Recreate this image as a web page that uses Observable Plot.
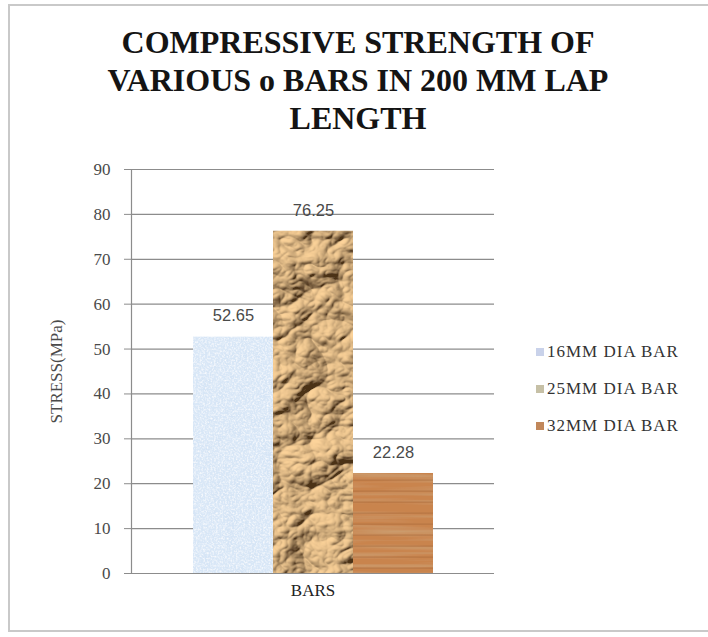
<!DOCTYPE html>
<html>
<head>
<meta charset="utf-8">
<script src="https://cdn.jsdelivr.net/npm/d3@7"></script>
<script src="https://cdn.jsdelivr.net/npm/@observablehq/plot@0.6"></script>
<style>
  html, body { margin: 0; padding: 0; background: #fff; }
  #page { position: relative; width: 708px; height: 637px; overflow: hidden; background: #fff; }
  #frame { position: absolute; left: 8px; top: 4px; width: 720px; height: 628px; border: 2px solid #c9c9c9; box-sizing: border-box; }
  #title { position: absolute; left: 0; top: 23px; width: 716px; text-align: center;
           font-family: "Liberation Serif", "Times New Roman", serif; font-weight: 700;
           font-size: 32px; line-height: 38px; color: #141414; }
  #title span { display: inline-block; white-space: nowrap; }
  #chart { position: absolute; left: 0; top: 140px; }
  #chart svg { font-family: "Liberation Serif", "Times New Roman", serif !important; font-size: 17px !important; }
  #legend { position: absolute; left: 536px; top: 341px; font-family: "Liberation Serif", "Times New Roman", serif; font-size: 17px; color: #333; letter-spacing: 1px; }
  .item { position: relative; height: 37px; line-height: 22px; white-space: nowrap; }
  .sw { display: inline-block; width: 8px; height: 8px; margin-right: 3px; vertical-align: 1px; }
</style>
</head>
<body>
<div id="page">
  <div id="frame"></div>
  <div id="title"></div>
  <div id="chart"></div>
  <div id="legend"></div>
</div>
<script>
// Chart text and values
const titleLines = ["COMPRESSIVE STRENGTH OF", "VARIOUS o BARS IN 200 MM LAP", "LENGTH"];
const groups = ["BARS"];
const series = ["16MM DIA BAR", "25MM DIA BAR", "32MM DIA BAR"];
const stress = [52.65, 76.25, 22.28];
const yTicks = [0, 10, 20, 30, 40, 50, 60, 70, 80, 90];
const yLabel = "STRESS(MPa)";

// Fills: textured SVG patterns per series, small swatch colours for the legend
const fills = ["url(#speckle)", "url(#crumple)", "url(#wood)"];
const swatches = ["#c9d2ea", "#c6c0a6", "#c1875a"];

const rows = series.map((s, i) => ({group: groups[0], series: s, value: stress[i]}));

document.getElementById("title").innerHTML =
  titleLines.map(t => `<span>${t}</span>`).join("<br>");

const W = 708, H = 497;
const chart = Plot.plot({
  width: W,
  height: H,
  marginLeft: 131,
  marginRight: 214,
  marginTop: 29,
  marginBottom: 64,
  style: {background: "transparent", overflow: "visible", color: "#4a4a4a"},
  fx: {domain: groups, padding: 0, label: null},
  x: {domain: series, paddingInner: 0, paddingOuter: 0.76, axis: null},
  y: {domain: [0, 90], label: null},
  color: {type: "ordinal", domain: series, range: fills},
  marks: [
    Plot.ruleY(yTicks, {stroke: "#8c8c8c", strokeWidth: 1.2}),
    Plot.axisY({
      ticks: yTicks, tickSize: 7, tickPadding: 14, stroke: "#8c8c8c", fill: "#4a4a4a",
      label: yLabel, labelAnchor: "center", labelArrow: "none", labelOffset: 82
    }),
    Plot.frame({anchor: "left", stroke: "#8c8c8c", strokeWidth: 1.2}),
    Plot.barY(rows, {fx: "group", x: "series", y: "value", fill: "series", inset: 0}),
    Plot.text(rows, {
      fx: "group", x: "series", y: "value", text: d => d.value.toFixed(2), dy: -21,
      fontSize: 16.5, fontFamily: "Liberation Sans, sans-serif", fill: "#4a4a4a"
    }),
    Plot.axisFx({anchor: "bottom", tickSize: 0, tickPadding: 10, fill: "#222", label: null}),
    Plot.ruleY([0], {stroke: "#8c8c8c", strokeWidth: 1.2})
  ]
});

// Texture definitions used by the bar fills
const defs = `
<defs>
  <filter id="speckleF" filterUnits="userSpaceOnUse" x="0" y="0" width="${W}" height="${H}">
    <feTurbulence type="fractalNoise" baseFrequency="0.55" numOctaves="2" seed="3" result="n"/>
    <feColorMatrix in="n" type="matrix" values="0 0 0 0 1  0 0 0 0 1  0 0 0 0 1  1.8 0 0 0 -0.75" result="dots"/>
    <feTurbulence type="fractalNoise" baseFrequency="0.08" numOctaves="2" seed="9" result="n2"/>
    <feColorMatrix in="n2" type="matrix" values="0 0 0 0 0.62  0 0 0 0 0.74  0 0 0 0 0.9  1.1 0 0 0 -0.5" result="blots"/>
    <feMerge result="m"><feMergeNode in="SourceGraphic"/><feMergeNode in="blots"/><feMergeNode in="dots"/></feMerge>
    <feComposite in="m" in2="SourceGraphic" operator="in"/>
  </filter>
  <filter id="crumpleF" filterUnits="userSpaceOnUse" x="0" y="0" width="${W}" height="${H}">
    <feTurbulence type="turbulence" baseFrequency="0.016 0.02" numOctaves="4" seed="11" result="n"/>
    <feDiffuseLighting in="n" surfaceScale="10" diffuseConstant="1.25" lighting-color="#e8c490" result="l">
      <feDistantLight azimuth="225" elevation="38"/>
    </feDiffuseLighting>
    <feComposite in="l" in2="SourceGraphic" operator="arithmetic" k1="0" k2="0.9" k3="0.45" k4="0" result="mix"/>
    <feComposite in="mix" in2="SourceGraphic" operator="in"/>
  </filter>
  <filter id="woodF" filterUnits="userSpaceOnUse" x="0" y="0" width="${W}" height="${H}">
    <feTurbulence type="fractalNoise" baseFrequency="0.006 0.16" numOctaves="3" seed="5" result="n"/>
    <feColorMatrix in="n" type="matrix" values="0 0 0 0 0.6  0 0 0 0 0.34  0 0 0 0 0.16  2.2 0 0 0 -0.95" result="grain"/>
    <feMerge result="m"><feMergeNode in="SourceGraphic"/><feMergeNode in="grain"/></feMerge>
    <feComposite in="m" in2="SourceGraphic" operator="in"/>
  </filter>
  <pattern id="speckle" patternUnits="userSpaceOnUse" width="${W}" height="${H}">
    <rect width="${W}" height="${H}" fill="#d9e7f7" filter="url(#speckleF)"/>
  </pattern>
  <pattern id="crumple" patternUnits="userSpaceOnUse" width="${W}" height="${H}">
    <rect width="${W}" height="${H}" fill="#6f4b27" filter="url(#crumpleF)"/>
  </pattern>
  <pattern id="woodLines" patternUnits="userSpaceOnUse" width="${W}" height="11">
    <rect width="${W}" height="11" fill="none"/>
    <rect y="9.5" width="${W}" height="1.2" fill="#a66838" opacity="0.55"/>
  </pattern>
  <pattern id="wood" patternUnits="userSpaceOnUse" width="${W}" height="${H}">
    <rect width="${W}" height="${H}" fill="#c9844e" filter="url(#woodF)"/>
    <rect width="${W}" height="${H}" fill="url(#woodLines)"/>
  </pattern>
</defs>`;
chart.insertAdjacentHTML("afterbegin", defs);
document.getElementById("chart").appendChild(chart);

// Legend
document.getElementById("legend").innerHTML = series.map((s, i) =>
  `<div class="item"><span class="sw" style="background:${swatches[i]}"></span>${s}</div>`).join("");
</script>
</body>
</html>
